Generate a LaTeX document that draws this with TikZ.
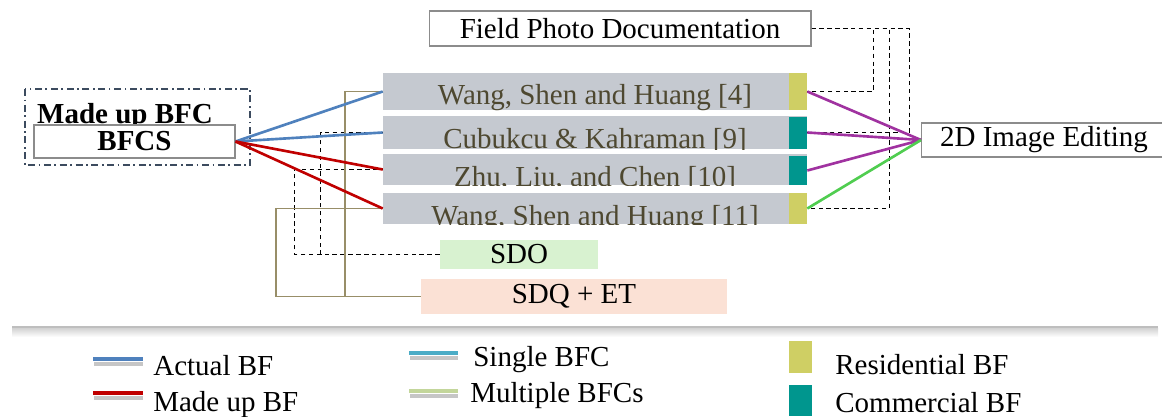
\documentclass[tikz,border=0pt]{standalone}
\usepackage{fontspec}
\setmainfont{Liberation Serif}
\usetikzlibrary{calc}
\definecolor{bargray}{RGB}{197,201,208}
\definecolor{bartxt}{RGB}{78,72,48}
\definecolor{resid}{RGB}{207,207,100}
\definecolor{comm}{RGB}{0,150,142}
\definecolor{actualblue}{RGB}{79,129,189}
\definecolor{madeupred}{RGB}{192,0,0}
\definecolor{editpurple}{RGB}{160,50,160}
\definecolor{editgreen}{RGB}{80,205,80}
\definecolor{olivline}{RGB}{152,142,104}
\definecolor{sdofill}{RGB}{216,242,208}
\definecolor{sdqfill}{RGB}{251,225,213}
\definecolor{boxgray}{RGB}{140,140,140}
\definecolor{framecol}{RGB}{60,75,95}
\definecolor{singleblue}{RGB}{75,172,198}
\definecolor{multigreen}{RGB}{195,214,155}
\definecolor{sepgray}{RGB}{190,190,190}
\newcommand{\txtsize}{\fontsize{16.5}{19}\selectfont}

\begin{document}
\begin{tikzpicture}[x=0.02cm,y=-0.02cm,
  every node/.style={font=\txtsize, inner sep=0pt},
  box/.style={draw=boxgray, line width=0.6pt, fill=white},
  bar/.style={fill=bargray, minimum width=8.48cm},
  blk/.style={minimum width=0.36cm, anchor=east},
  bartext/.style 2 args={path picture={\node[anchor=base, text=bartxt] at ([yshift=#2]path picture bounding box.center) {#1};}},
  link/.style={line width=1.5pt},
  dashlink/.style={line width=0.9pt, dash pattern=on 2.5pt off 2pt},
  oliv/.style={draw=olivline, line width=1.1pt},
  swatch/.style={line width=2.5pt}]
\useasboundingbox (0,0) rectangle (1162,416);
% BFCS
\draw[framecol, line width=0.6pt, dash pattern=on 4pt off 2pt on 1pt off 2pt] (25,89) rectangle (250,165);
\node[anchor=base, font=\txtsize\bfseries] (madeup) at (125,123) {Made up BFC};
\node[box, minimum width=4.02cm, minimum height=0.66cm, font=\txtsize\bfseries] (bfcs) at (134.5,141.5) {BFCS};
% studies
\node[bar, minimum height=0.74cm, bartext={Wang, Shen and Huang [4]}{-0.25cm}] (b1) at (595,91.5) {};
\node[bar, minimum height=0.66cm, bartext={Cubukcu \& Kahraman [9]}{-0.31cm}] (b2) at (595,132.5) {};
\node[bar, minimum height=0.62cm, bartext={Zhu, Liu, and Chen [10]}{-0.33cm}] (b3) at (595,169.5) {};
\node[bar, minimum height=0.62cm, bartext={Wang, Shen and Huang [11]}{-0.33cm}] (b4) at (595,208.5) {};
\node[blk, fill=resid, minimum height=0.74cm] (k1) at (b1.east) {};
\node[blk, fill=comm, minimum height=0.64cm] (k2) at (b2.east) {};
\node[blk, fill=comm, minimum height=0.58cm] (k3) at ([yshift=-0.02cm]b3.east) {};
\node[blk, fill=resid, minimum height=0.62cm] (k4) at (b4.east) {};
% sources and output
\node[box, minimum width=7.64cm, minimum height=0.70cm] (fpd) at (620,28.5) {Field Photo Documentation};
\node[box, anchor=west, minimum width=4.9cm, minimum height=0.68cm] (edit) at (921,140) {2D Image Editing};
\node[fill=sdofill, minimum width=3.16cm, minimum height=0.58cm] (sdo) at (519,254.5) {SDO};
\node[fill=sdqfill, minimum width=6.12cm, minimum height=0.70cm] (sdq) at (574,296.5) {SDQ + ET};
% field photos
\draw[dashlink] (fpd.east) -| ($(k1.east)+(66,0)$) -- (k1.east);
\draw[dashlink] (fpd.east) -| ($(k4.east)+(82,0)$) -- (k4.east);
\draw[dashlink] (fpd.east) -| ($(k2.east)+(102,0)$) -- (k2.east);
% SDO
\draw[dashlink] (sdo.west) -| ($(b2.west)+(-62,0)$) -- (b2.west);
\draw[dashlink] (sdo.west) -| ($(b3.west)+(-88,0)$) -- (b3.west);
% SDQ + ET
\draw[oliv] (sdq.west) -| ($(b1.west)+(-38,0)$) -- (b1.west);
\draw[oliv] (sdq.west) -| ($(b4.west)+(-107,0)$) -- (b4.west);
% actual / made up
\draw[link, actualblue] (bfcs.east) -- (b1.west);
\draw[link, actualblue] (bfcs.east) -- (b2.west);
\draw[link, madeupred] (bfcs.east) -- (b3.west);
\draw[link, madeupred] (bfcs.east) -- (b4.west);
% 2D image editing
\draw[link, editpurple] (k1.east) -- (edit.west);
\draw[link, editpurple] (k2.east) -- (edit.west);
\draw[link, editpurple] (k3.east) -- (edit.west);
\draw[link, editgreen] (k4.east) -- (edit.west);
% separator
\shade[top color=gray!35, bottom color=white] (12,328) rectangle (1158,337);
\draw[sepgray, line width=1.5pt] (12,327) -- (1158,327);
% legend
\draw[gray!45, swatch] (94,364) -- (143,364);
\draw[actualblue, swatch] (93,359) -- (143,359);
\node[anchor=base west] (lactual) at (153,375) {Actual BF};
\draw[gray!45, swatch] (94,398) -- (143,398);
\draw[madeupred, swatch] (93,393) -- (143,393);
\node[anchor=base west] (lmadeup) at (153,411) {Made up BF};
\draw[gray!45, swatch] (410,358) -- (458,358);
\draw[singleblue, swatch] (409,353) -- (458,353);
\node[anchor=base west] (lsingle) at (473,366) {Single BFC};
\draw[gray!45, swatch] (410,396) -- (458,396);
\draw[multigreen, swatch] (409,391) -- (458,391);
\node[anchor=base west] (lmulti) at (470,402) {Multiple BFCs};
\fill[resid] (789,341) rectangle (812,373);
\node[anchor=base west] (lresid) at (835,374) {Residential BF};
\fill[comm] (789,385) rectangle (812,416);
\node[anchor=base west] (lcomm) at (835,412) {Commercial BF};
\end{tikzpicture}
\end{document}
